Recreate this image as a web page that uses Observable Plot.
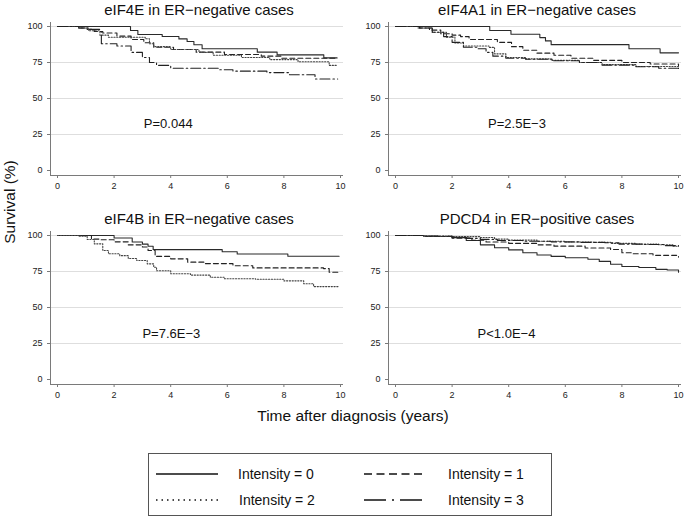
<!DOCTYPE html>
<html>
<head>
<meta charset="utf-8">
<script src="https://cdn.jsdelivr.net/npm/d3@7"></script>
<script src="https://cdn.jsdelivr.net/npm/@observablehq/plot@0.6"></script>
<style>
  html, body { margin: 0; padding: 0; background: #fff; }
  body { font-family: "Liberation Sans", Arial, Helvetica, sans-serif; color: #111; }
  #wrap { position: relative; width: 685px; height: 526px; overflow: hidden; }
  .panel { position: absolute; }
  .panel svg { display: block; }
  #xlabel { position: absolute; left: 203px; width: 300px; top: 408px; text-align: center; font-size: 15.5px; line-height: 15px; white-space: nowrap; }
  #ylabel { position: absolute; left: 9px; top: 202px; transform: translate(-50%, -50%) rotate(-90deg); font-size: 15.5px; line-height: 15px; white-space: nowrap; }
  #legend { position: absolute; left: 148px; top: 453px; width: 404px; height: 63px; border: 1px solid #555; box-sizing: border-box; }
  .lg-item { position: absolute; height: 20px; display: flex; align-items: center; font-size: 14px; white-space: nowrap; }
  .lg-item svg { display: block; }
</style>
</head>
<body>
<div id="wrap">
  <div id="ylabel"></div>
  <div id="xlabel"></div>
  <div id="legend"></div>
</div>
<script>
// ---------- text ----------
const panelTitles = [
  "eIF4E in ER\u2212negative cases",
  "eIF4A1 in ER\u2212negative cases",
  "eIF4B in ER\u2212negative cases",
  "PDCD4 in ER\u2212positive cases"
];
const pValueLabels = ["P=0.044", "P=2.5E\u22123", "P=7.6E\u22123", "P<1.0E\u22124"];
const intensityLabels = ["Intensity = 0", "Intensity = 1", "Intensity = 2", "Intensity = 3"];
const xAxisTitle = "Time after diagnosis (years)";
const yAxisTitle = "Survival (%)";
const xTicks = [0, 2, 4, 6, 8, 10];
const yTicks = [0, 25, 50, 75, 100];
const yGridValues = [25, 50, 75, 100];

// ---------- survival curves: [years, survival %] ----------
// eIF4E, ER-negative
const eIF4E_0 = [[0,100],[2.58,97.2],[2.84,94.4],[3.70,93.1],[4.29,91.4],[4.58,89.6],[4.82,87.3],[5.11,84.5],[7.06,82.2],[7.76,80.3],[9.41,78.2],[9.88,78.2]];
const eIF4E_1 = [[0,100],[0.75,99],[1.05,98],[1.3,96.5],[1.6,95.5],[2.1,93.3],[2.6,91],[3.05,88.7],[3.4,85.6],[4.1,84],[4.9,82.2],[5.9,80.6],[7.2,79.4],[7.9,78],[9.9,78]];
const eIF4E_2 = [[0,100],[0.75,99],[1.1,97],[1.5,94],[1.8,92.5],[3.1,91.5],[3.25,88],[3.4,86],[4,84],[5,82],[5.5,80],[6.5,78.5],[7.5,77],[8.5,75.5],[9.6,73],[9.9,73]];
const eIF4E_3 = [[0,100],[0.75,99],[1.1,98],[1.5,96.5],[1.55,88],[2.1,86.5],[2.6,82],[3.0,78.5],[3.25,75],[3.5,73],[4.0,71],[5.7,70],[6.2,69],[7.4,68],[8.2,66.5],[9.1,63.5],[9.9,63.5]];
// eIF4A1, ER-negative
const eIF4A1_0 = [[0,100],[3.33,97.2],[4.08,94.6],[5.1,92.3],[5.3,90],[5.5,87.4],[8.25,84.5],[9.35,81.7],[10,81.7]];
const eIF4A1_1 = [[0,100],[0.8,99],[1.2,97.5],[1.6,95],[2.0,94],[2.3,93],[2.6,91],[3.4,91],[3.6,89],[4.1,86],[4.5,83.5],[5.0,81.5],[5.6,80],[6.2,78],[7.0,76.5],[8.0,75],[9.0,74],[10,73]];
const eIF4A1_2 = [[0,100],[0.85,99],[1.3,96],[1.8,92.6],[2.1,88.5],[2.4,86.5],[3.3,85.5],[3.5,81],[3.9,78.5],[4.6,77.5],[5.5,76.5],[6.5,75],[7.3,73.5],[8.5,72.2],[10,71]];
const eIF4A1_3 = [[0,100],[0.85,99],[1.3,96],[1.7,93],[2.0,89],[2.4,85.6],[2.9,84.5],[3.2,82],[3.44,79.4],[3.9,78],[4.6,77.3],[5.55,76.2],[6.5,75],[7.3,73.2],[8.5,72],[9.3,71],[10,70]];
// eIF4B, ER-negative
const eIF4B_0 = [[0,100],[2.0,98.3],[2.64,95.5],[3.0,94],[3.2,92.5],[3.38,90.2],[5.82,88.7],[6.35,87.2],[8.14,85.6],[9.95,85.6]];
const eIF4B_1 = [[0,100],[1.2,97.5],[1.5,97],[2.0,95.6],[2.5,93.5],[3.0,92],[3.2,89.6],[3.45,85.5],[4.0,83.8],[4.6,81.5],[5.2,80.5],[6.2,79],[6.9,77.5],[9.4,77],[9.6,74.5],[9.95,74.5]];
const eIF4B_2 = [[0,100],[0.75,99.5],[1.05,97.2],[1.3,94.2],[1.6,89.6],[1.8,87.3],[2.2,86],[2.5,84],[2.8,82.6],[3.17,80.3],[3.4,78],[3.5,75.5],[4.0,73.4],[4.7,72.5],[5.4,71],[5.9,70],[7.0,69.6],[8.0,68.5],[8.7,66.5],[9.05,64.5],[9.95,64.5]];
// PDCD4, ER-positive
const PDCD4_0 = [[0,100],[1.0,99.7],[1.5,99.3],[2.0,98.5],[2.5,96.5],[3.0,93.5],[3.5,91.5],[4.0,90],[4.5,88],[5.0,86.5],[5.5,85.5],[6.0,84.5],[6.8,83.5],[7.2,82],[7.6,80],[8.0,78.5],[8.6,77.8],[9.2,76.5],[9.6,76],[10,74.5]];
const PDCD4_1 = [[0,100],[1.0,99.3],[2.0,98.2],[2.7,96.7],[3.2,95.5],[4.0,94.5],[5.0,93.5],[5.6,92.6],[6.7,91.3],[7.6,90.3],[8.0,88],[8.4,87.3],[9.1,86.2],[10,85]];
const PDCD4_2 = [[0,100],[1.0,99.6],[2.0,99.2],[3.0,98.6],[3.5,97.5],[4.0,96.8],[5.0,96],[6.0,95.5],[7.0,95.2],[7.6,94.5],[8.5,94],[9.3,93.6],[9.8,92.5],[10,92.4]];
const PDCD4_3 = [[0,100],[1.0,99.5],[2.0,98.8],[2.5,98],[3.0,97.3],[3.6,96.5],[4.5,96],[5.5,95.6],[6.5,95.2],[7.4,95],[7.9,94],[8.8,93.8],[9.5,93],[10,92.6]];

const panelSeries = [
  [eIF4E_0, eIF4E_1, eIF4E_2, eIF4E_3],
  [eIF4A1_0, eIF4A1_1, eIF4A1_2, eIF4A1_3],
  [eIF4B_0, eIF4B_1, eIF4B_2, null],
  [PDCD4_0, PDCD4_1, PDCD4_2, PDCD4_3]
];

// ---------- layout & style (not data) ----------
const FONT = '"Liberation Sans", Arial, Helvetica, sans-serif';
const panelBoxes = [
  {left: 0, top: 0}, {left: 338, top: 0},
  {left: 0, top: 209}, {left: 338, top: 209}
];
const pLabelPos = [[3.05, 32.5], [3.27, 32.5], [3.0, 32], [2.9, 32]];
const lineStyles = [
  {stroke: "#2a2a2a", strokeWidth: 1.1, dash: null},
  {stroke: "#222", strokeWidth: 1.1, dash: "5,3"},
  {stroke: "#444", strokeWidth: 1.1, dash: "1.2,1.6"},
  {stroke: "#222", strokeWidth: 1.1, dash: "10,3,1.5,3"}
];
const legendStyles = [
  {dash: null}, {dash: "8,4.5"}, {dash: "1.5,4"}, {dash: "22,6,2,6"}
];

function makePanel(i) {
  const series = panelSeries[i];
  const lineMarks = [];
  series.forEach((pts, k) => {
    if (!pts) return;
    const rows = pts.map(([t, s]) => ({t, s}));
    const st = lineStyles[k];
    lineMarks.push(Plot.line(rows, {
      x: "t", y: "s", curve: "step-after",
      stroke: st.stroke, strokeWidth: st.strokeWidth,
      strokeDasharray: st.dash || undefined
    }));
  });
  const [px, py] = pLabelPos[i];
  return Plot.plot({
    width: 347, height: 200,
    marginLeft: 50, marginRight: 4, marginTop: 22, marginBottom: 25,
    style: {fontFamily: FONT, fontSize: "9px", color: "#222", background: "transparent", overflow: "visible"},
    x: {domain: [0, 10], insetLeft: 7, insetRight: 3},
    y: {domain: [0, 100], insetTop: 4, insetBottom: 5},
    marks: [
      Plot.gridY(yGridValues, {stroke: "#dedede", strokeOpacity: 1, strokeWidth: 1}),
      Plot.ruleX([0], {dx: -7, stroke: "#7a7a7a", strokeWidth: 1}),
      Plot.ruleY([0], {dy: 5, stroke: "#7a7a7a", strokeWidth: 1}),
      Plot.axisY(yTicks, {tickSize: 3, tickPadding: 5, label: null, stroke: "#7a7a7a", fill: "#222", fontSize: 9}),
      Plot.axisX(xTicks, {tickSize: 3, tickPadding: 4, label: null, stroke: "#7a7a7a", fill: "#222", fontSize: 9}),
      ...lineMarks,
      Plot.text([panelTitles[i]], {frameAnchor: "top", dy: -12, dx: 2, lineAnchor: "middle", fontSize: 15, fill: "#111"}),
      Plot.text([{x: px, y: py, label: pValueLabels[i]}], {x: "x", y: "y", text: "label", textAnchor: "start", lineAnchor: "middle", fontSize: 13, fill: "#111"})
    ]
  });
}

const wrap = document.getElementById("wrap");
panelBoxes.forEach((b, i) => {
  const div = document.createElement("div");
  div.className = "panel";
  div.style.left = b.left + "px";
  div.style.top = b.top + "px";
  div.appendChild(makePanel(i));
  wrap.appendChild(div);
});

document.getElementById("xlabel").textContent = xAxisTitle;
document.getElementById("ylabel").textContent = yAxisTitle;

// ---------- legend ----------
const legend = document.getElementById("legend");
const legendCells = [
  {sx: 6, tx: 89, y: 10},  {sx: 214, tx: 299, y: 10},
  {sx: 6, tx: 90, y: 36},  {sx: 214, tx: 299, y: 36}
];
intensityLabels.forEach((lab, k) => {
  const c = legendCells[k];
  const sample = document.createElementNS("http://www.w3.org/2000/svg", "svg");
  sample.setAttribute("width", 64); sample.setAttribute("height", 20);
  const ln = document.createElementNS("http://www.w3.org/2000/svg", "line");
  ln.setAttribute("x1", 1); ln.setAttribute("x2", 63);
  ln.setAttribute("y1", 10); ln.setAttribute("y2", 10);
  ln.setAttribute("stroke", "#111"); ln.setAttribute("stroke-width", 1.4);
  if (legendStyles[k].dash) ln.setAttribute("stroke-dasharray", legendStyles[k].dash);
  sample.appendChild(ln);
  const s = document.createElement("div");
  s.className = "lg-item"; s.style.left = c.sx + "px"; s.style.top = c.y + "px";
  s.appendChild(sample);
  legend.appendChild(s);
  const t = document.createElement("div");
  t.className = "lg-item"; t.style.left = c.tx + "px"; t.style.top = c.y + "px";
  t.textContent = lab;
  legend.appendChild(t);
});
</script>
</body>
</html>
